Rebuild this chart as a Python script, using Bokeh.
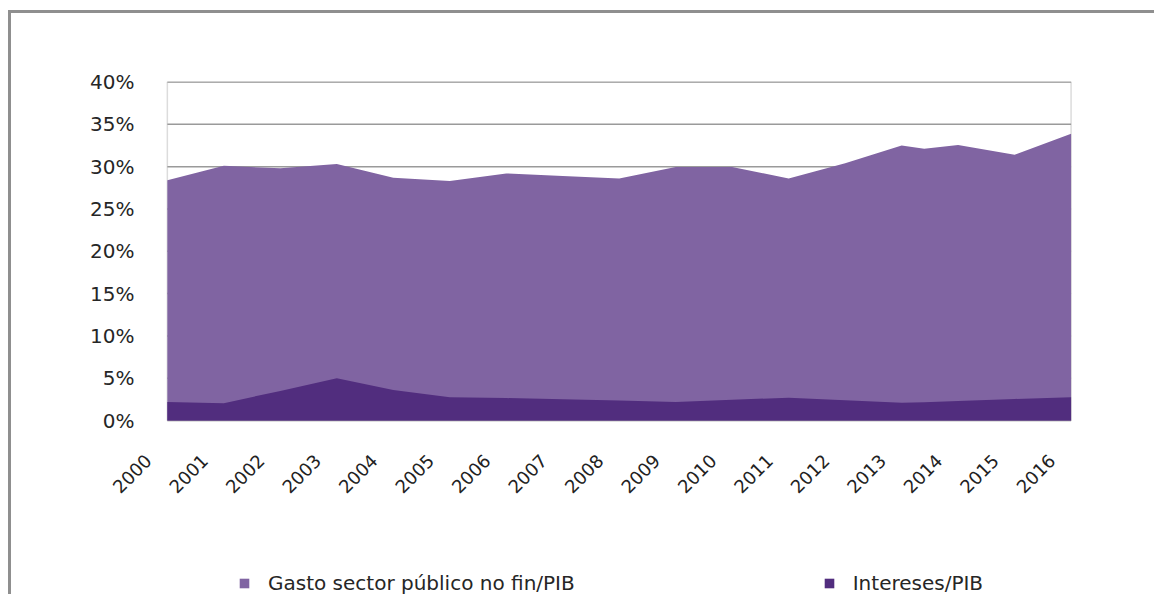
import math
from bokeh.plotting import figure
from bokeh.models import (ColumnDataSource, FixedTicker, Legend, LegendItem,
                          LabelSet, Range1d, BoxAnnotation)
from bokeh.core.properties import value
from bokeh.embed import file_html
from bokeh.resources import INLINE

# ---- data ----
years = [2000, 2001, 2002, 2003, 2004, 2005, 2006, 2007, 2008, 2009,
         2010, 2011, 2012, 2013, 2013.4, 2014, 2015, 2016]
gasto = [28.4, 30.1, 29.8, 30.3, 28.7, 28.3, 29.2, 28.9, 28.6, 29.95,
         29.95, 28.6, 30.4, 32.5, 32.1, 32.55, 31.4, 33.9]
intereses = [2.2, 2.05, 3.5, 5.0, 3.6, 2.75, 2.65, 2.5, 2.35, 2.2,
             2.45, 2.7, 2.4, 2.1, 2.15, 2.3, 2.55, 2.75]

tick_years = [2000, 2001, 2002, 2003, 2004, 2005, 2006, 2007, 2008,
              2009, 2010, 2011, 2012, 2013, 2014, 2015, 2016]
tick_year_labels = ["2000", "2001", "2002", "2003", "2004", "2005", "2006",
                    "2007", "2008", "2009", "2010", "2011", "2012", "2013",
                    "2014", "2015", "2016"]
y_ticks = [0, 5, 10, 15, 20, 25, 30, 35, 40]
y_tick_labels = ["0%", "5%", "10%", "15%", "20%", "25%", "30%", "35%", "40%"]
series_names = ["Gasto sector público no fin/PIB", "Intereses/PIB"]

LIGHT = "#8064A2"
DARK = "#512D7E"
FONT = "DejaVu Sans"

# layout (pixels)
W, H = 1146, 584
BORDER_L, BORDER_R, BORDER_T = 49, 85, 68
AREA_LEFT_PX = 107           # from frame left to the first year
AREA_W_PX = 905              # width of the plotted period
ZERO_FROM_TOP = 339          # from frame top to the 0% line
PAD_X = 0.025
Y_TOP = 40.06
x_per_px = (tick_years[-1] - tick_years[0]) / AREA_W_PX
X_START = tick_years[0] - AREA_LEFT_PX * x_per_px
X_END = tick_years[-1] + PAD_X
y_per_px = Y_TOP / ZERO_FROM_TOP
Y_BOTTOM = Y_TOP - (H - BORDER_T) * y_per_px

p = figure(width=W, height=H, output_backend="svg", toolbar_location=None,
           x_range=Range1d(X_START, X_END),
           y_range=Range1d(Y_BOTTOM, Y_TOP),
           min_border_left=BORDER_L, min_border_right=BORDER_R,
           min_border_top=BORDER_T, min_border_bottom=0)
p.styles = {"position": "relative", "left": "8px", "top": "10px",
            "border-top": "3px solid #8f8f8f", "border-left": "3px solid #8f8f8f"}
p.outline_line_color = None
p.xaxis.visible = False
p.xgrid.visible = False
p.ygrid.visible = False

# plot-area border (drawn beneath the areas)
p.add_layout(BoxAnnotation(left=tick_years[0], right=tick_years[-1],
                           bottom=y_ticks[0], top=y_ticks[-1],
                           fill_alpha=0, line_color="#8c8c8c", line_width=1.5,
                           level="underlay"))

# horizontal gridlines spanning the plotted period only
grid_src = ColumnDataSource(dict(y=y_ticks))
p.segment(x0=tick_years[0], x1=tick_years[-1], y0="y", y1="y", source=grid_src,
          line_color="#9a9a9a", line_width=1.5)

src = ColumnDataSource(dict(x=years, g=gasto, i=intereses))
r1 = p.varea(x="x", y1=0, y2="g", source=src, fill_color=LIGHT)
r2 = p.varea(x="x", y1=0, y2="i", source=src, fill_color=DARK)

# y axis (labels pulled right, next to the plotted period)
p.yaxis.ticker = FixedTicker(ticks=y_ticks)
p.yaxis.major_label_overrides = {t: l for t, l in zip(y_ticks, y_tick_labels)}
p.yaxis.axis_line_color = None
p.yaxis.major_tick_line_color = None
p.yaxis.minor_tick_line_color = None
p.yaxis.major_tick_out = 0
p.yaxis.major_tick_in = 0
p.yaxis.major_label_standoff = -(AREA_LEFT_PX - 33)
p.yaxis.major_label_text_font = FONT
p.yaxis.major_label_text_font_size = "20px"
p.yaxis.major_label_text_color = "#262626"

# rotated year labels under the 0% line
lab_src = ColumnDataSource(dict(x=tick_years, y=[0] * len(tick_years),
                                t=tick_year_labels))
p.add_layout(LabelSet(x="x", y="y", text="t", source=lab_src,
                      angle=math.pi / 4, text_align="right",
                      text_baseline="middle", x_offset=-19, y_offset=-37,
                      text_font=value(FONT), text_font_size=value("18px"),
                      text_color="#222222"))

legend = Legend(items=[LegendItem(label=series_names[0], renderers=[r1]),
                       LegendItem(label=series_names[1], renderers=[r2])],
                orientation="horizontal", location=(AREA_LEFT_PX + 71, 2),
                glyph_width=12, glyph_height=12, label_standoff=18,
                spacing=248, padding=0, margin=0,
                border_line_color=None, background_fill_alpha=0,
                label_text_font=FONT, label_text_font_size="20px",
                label_text_color="#262626")
p.add_layout(legend, "center")

open("out.html", "w").write(file_html(p, INLINE))
